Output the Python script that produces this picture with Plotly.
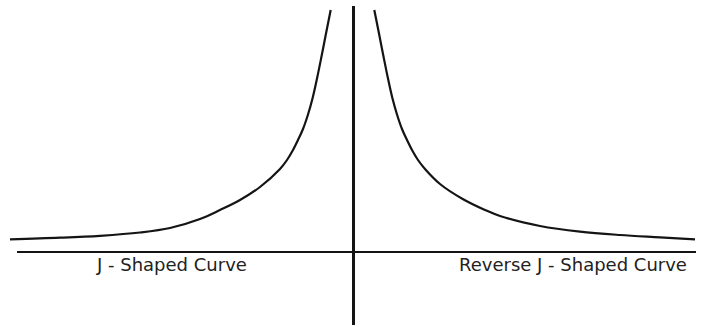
import plotly.graph_objects as go

# J-shaped curve (left of the vertical axis): x offset from axis, height above baseline
j_x = [-343, -293, -253, -213, -183, -153, -133, -113, -93, -73, -66, -60,
       -55, -50, -45, -40.5, -36, -31.3, -27, -22.3]
j_y = [12.7, 14.3, 16.2, 19.5, 24, 33, 42, 52, 65, 83, 92, 102,
       112, 123, 137.5, 153.5, 173.5, 196.5, 218.5, 242]

# Reverse J-shaped curve (right of the vertical axis)
rj_x = [21.3, 26, 30.3, 35, 39.5, 44, 49, 54, 59, 65, 72, 87, 109.7, 132,
        147, 187, 227, 267, 307, 342]
rj_y = [242, 218.5, 196.5, 173.5, 153.5, 137.5, 123, 112, 102, 92, 83, 68, 53, 42,
        36, 26, 20.3, 17, 14.7, 12.7]

labels = ["J - Shaped Curve", "Reverse J - Shaped Curve"]
label_x = [-181.5, 220]
label_y = [-12, -12]

line_color = "#141414"

fig = go.Figure()
for xs, ys in ((j_x, j_y), (rj_x, rj_y)):
    fig.add_trace(go.Scatter(x=xs, y=ys, mode="lines",
                             line=dict(color=line_color, width=2.2, shape="spline", smoothing=1.0),
                             hoverinfo="skip", showlegend=False))

# Axes drawn as plain lines
fig.add_shape(type="line", x0=-336, x1=343, y0=0, y1=0,
              line=dict(color=line_color, width=2.2))
fig.add_shape(type="line", x0=0.5, x1=0.5, y0=246, y1=-73,
              line=dict(color=line_color, width=3))

for t, x, y in zip(labels, label_x, label_y):
    fig.add_annotation(x=x, y=y, text=t, showarrow=False,
                       xanchor="center", yanchor="middle",
                       font=dict(family="DejaVu Sans", size=18, color="#222222"))

fig.update_layout(
    width=706, height=327,
    margin=dict(l=0, r=0, t=0, b=0),
    paper_bgcolor="white", plot_bgcolor="white",
    xaxis=dict(range=[-353, 353], visible=False, fixedrange=True),
    yaxis=dict(range=[-75, 252], visible=False, fixedrange=True),
    showlegend=False,
)

fig.write_html("out.html")
